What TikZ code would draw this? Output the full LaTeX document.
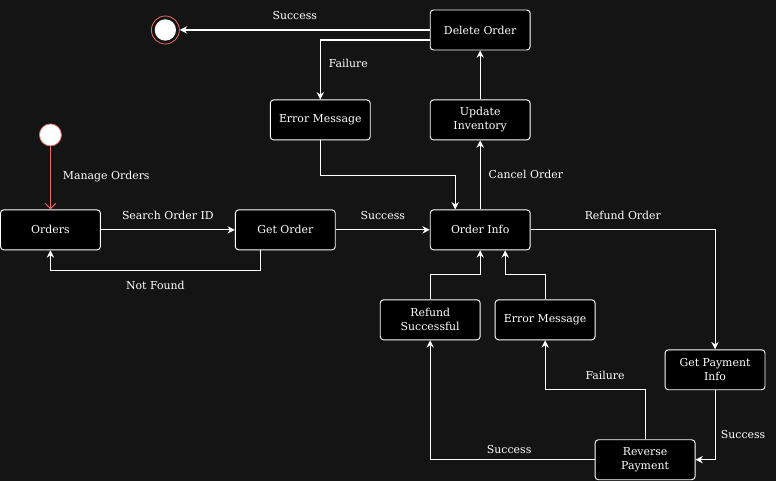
\documentclass[tikz,border=0pt]{standalone}
\usepackage{fontspec}
\setmainfont{DejaVu Serif}
\usetikzlibrary{arrows.meta}
\definecolor{bg}{HTML}{141414}
\definecolor{ring}{HTML}{EA6B66}
\begin{document}
\begin{tikzpicture}[x=0.75pt,y=-0.75pt,
        box/.style={draw=white,fill=black,rectangle,rounded corners=2.5pt,line width=0.7pt,minimum width=75pt,minimum height=30pt,inner sep=1pt,align=center,text=white,font=\fontsize{8.2}{10.5}\selectfont},
        lbl/.style={text=white,inner sep=2pt,font=\fontsize{8.2}{10}\selectfont},
        wire/.style={draw=white,line width=0.8pt,-{Stealth[length=5.5pt,width=5.5pt]}},
        startst/.style={circle,draw=ring,fill=white,line width=0.6pt,minimum size=16.5pt,inner sep=0pt},
        endst/.style={circle,draw=ring,fill=bg,line width=0.6pt,minimum size=21pt,inner sep=0pt,
          path picture={\fill[white] (path picture bounding box.center) circle (8pt);}}
      ]
      \fill[bg] (0,0) rectangle (776,481);
      % states
      \node[startst] (st) at (50,135) {};
      \node[endst] (fin) at (165,30) {};
      \node[box] (ord) at (50,230) {Orders};
      \node[box] (go) at (285,230) {Get Order};
      \node[box] (oi) at (480,230) {Order Info};
      \node[box] (em1) at (320,120) {Error Message};
      \node[box] (ui) at (480,120) {Update\\Inventory};
      \node[box] (del) at (480,30) {Delete Order};
      \node[box] (rs) at (430,320) {Refund\\Successful};
      \node[box] (em2) at (545,320) {Error Message};
      \node[box] (gpi) at (715,370) {Get Payment\\Info};
      \node[box] (rp) at (645,460) {Reverse\\Payment};
      % transitions
      \draw[draw=ring,line width=0.75pt,-{Straight Barb[length=4pt,width=8pt]}] (st) -- node[lbl,right=7pt,pos=0.48] {Manage Orders} (ord);
      \draw[wire] (ord) -- node[lbl,above=5pt] {Search Order ID} (go);
      \draw[wire] ([xshift=-18.75pt]go.south) -- ++(0,20) -| node[lbl,below=6pt,pos=0.25] {Not Found} (ord);
      \draw[wire] (go) -- node[lbl,above=5pt] {Success} (oi);
      \draw[wire] (oi) -- node[lbl,right=4pt] {Cancel Order} (ui);
      \draw[wire] (ui) -- (del);
      \draw[wire] (del) -- node[lbl,above=5pt,pos=0.54] {Success} (fin);
      \draw[wire] ([yshift=-7.5pt]del.west) -| node[lbl,right=4pt,pos=0.7] {Failure} (em1);
      \draw[wire] (em1.south) -- ++(0,35) -| ([xshift=-18.75pt]oi.north);
      \draw[wire] (oi) -| node[lbl,above=5pt,pos=0.25] {Refund Order} (gpi);
      \draw[wire] (gpi) |- node[lbl,right=2pt,pos=0.32] {Success} (rp);
      \draw[wire] (rp.north) -- ++(0,-50) -| node[lbl,above=5pt,pos=0.2] {Failure} (em2);
      \draw[wire] (rp) -| node[lbl,above=2pt,pos=0.26] {Success} (rs);
      \draw[wire] (rs.north) -- ++(0,-25) -| (oi);
      \draw[wire] (em2.north) -- ++(0,-25) -| ([xshift=18.75pt]oi.south);
    \end{tikzpicture}
\end{document}
